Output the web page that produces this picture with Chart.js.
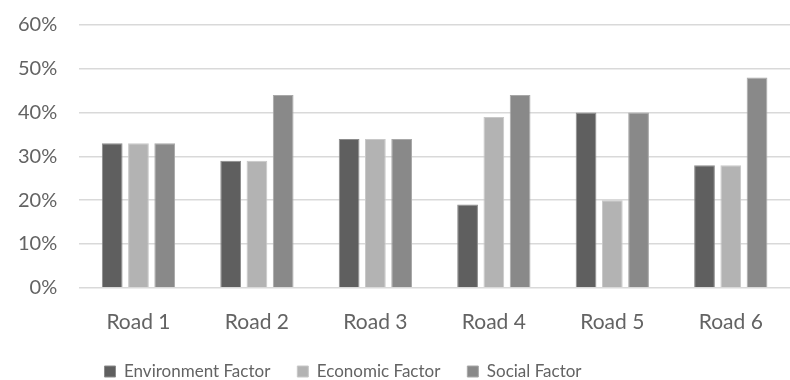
<!DOCTYPE html>
<html>
<head>
<meta charset="utf-8">
<script src="https://cdn.jsdelivr.net/npm/chart.js@4"></script>
<style>
  html, body { margin: 0; padding: 0; background: #fff; }
  #wrap { width: 790px; height: 380px; }
</style>
</head>
<body>
<div id="wrap"><canvas id="roadChart"></canvas></div>
<script>
const roads = ['Road 1', 'Road 2', 'Road 3', 'Road 4', 'Road 5', 'Road 6'];
const environmentFactor = [33, 29, 34, 19, 40, 28];
const economicFactor = [33, 29, 34, 39, 20, 28];
const socialFactor = [33, 44, 34, 44, 40, 48];

const textColor = '#636363';
const fontFamily = 'Lato, "Open Sans", sans-serif';

// the legend in the picture sits left of the page centre and close under the labels
const legendShift = {
    id: 'legendShift',
    afterLayout(chart) {
        const lg = chart.legend;
        lg.left -= 67;
        lg.right -= 67;
        lg.top -= 13;
        lg.bottom -= 13;
    }
};

const ctx = document.getElementById('roadChart').getContext('2d');

new Chart(ctx, {
    type: 'bar',
    data: {
        labels: roads,
        datasets: [
            { label: 'Environment Factor', data: environmentFactor, backgroundColor: '#5f5f5f', borderColor: '#8c8c8c', borderWidth: 1 },
            { label: 'Economic Factor', data: economicFactor, backgroundColor: '#b3b3b3', borderColor: '#c8c8c8', borderWidth: 1 },
            { label: 'Social Factor', data: socialFactor, backgroundColor: '#898989', borderColor: '#a8a8a8', borderWidth: 1 }
        ]
    },
    options: {
        responsive: true,
        maintainAspectRatio: false,
        animation: false,
        datasets: {
            bar: { categoryPercentage: 0.665, barPercentage: 0.79 }
        },
        layout: { padding: { top: 25, left: 18, right: -12, bottom: -23 } },
        plugins: {
            legend: {
                position: 'bottom',
                labels: {
                    color: textColor,
                    font: { family: fontFamily, size: 17 },
                    boxWidth: 11,
                    boxHeight: 11,
                    padding: 27
                }
            },
            tooltip: { enabled: false }
        },
        scales: {
            x: {
                grid: { display: false },
                border: { display: false },
                ticks: { color: textColor, font: { family: fontFamily, size: 21 }, padding: 14 }
            },
            y: {
                min: 0,
                max: 60,
                ticks: {
                    stepSize: 10,
                    color: textColor,
                    font: { family: fontFamily, size: 20 },
                    padding: 0,
                    callback: v => v + '%'
                },
                // invisible tick marks give the gap between labels and plot
                grid: { color: '#d9d9d9', lineWidth: 1.5, drawTicks: true, tickLength: 22, tickColor: 'rgba(0,0,0,0)' },
                border: { display: false }
            }
        }
    },
    plugins: [legendShift]
});
</script>
</body>
</html>
